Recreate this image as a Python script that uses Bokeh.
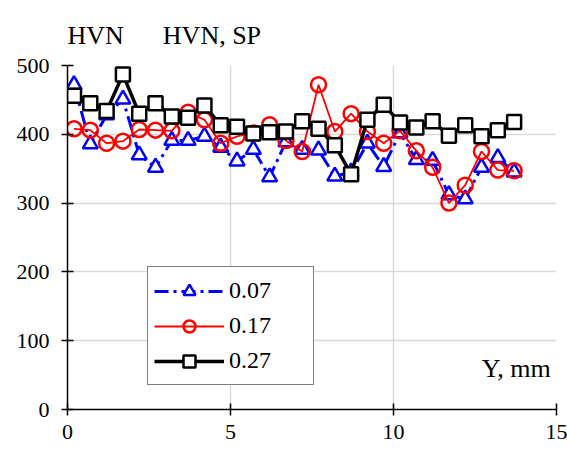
from bokeh.plotting import figure
from bokeh.models import Legend, LegendItem, Label, FixedTicker, Range1d
from bokeh.embed import file_html
from bokeh.resources import INLINE

y_mm = [0.2, 0.7, 1.2, 1.7, 2.2, 2.7, 3.2, 3.7, 4.2, 4.7, 5.2, 5.7, 6.2, 6.7,
        7.2, 7.7, 8.2, 8.7, 9.2, 9.7, 10.2, 10.7, 11.2, 11.7, 12.2, 12.7, 13.2, 13.7]

hv_007 = [472, 386, 428, 451, 370, 352, 391, 391, 397, 381, 361, 378, 338, 389,
          378, 377, 339, 345, 387, 353, 402, 363, 362, 312, 306, 352, 366, 345]
hv_017 = [408, 406, 387, 390, 407, 406, 405, 432, 421, 387, 397, 402, 414, 391,
          375, 472, 404, 430, 404, 387, 405, 376, 352, 300, 326, 375, 348, 347]
hv_027 = [456, 445, 434, 487, 430, 445, 426, 424, 442, 413, 411, 401, 403, 404,
          419, 408, 384, 342, 421, 443, 417, 410, 419, 398, 413, 397, 406, 418]

series_labels = ["0.07", "0.17", "0.27"]
x_ticks = [0, 5, 10, 15]
y_ticks = [0, 100, 200, 300, 400, 500]
header_left = "HVN"
header_right = "HVN, SP"

FONT = "Liberation Serif"

p = figure(width=567, height=449, output_backend="svg", toolbar_location=None,
           x_range=Range1d(0, 15), y_range=Range1d(0, 500),
           min_border_left=67, min_border_right=11, min_border_top=65, min_border_bottom=40)
p.outline_line_color = None
p.background_fill_color = "white"
p.border_fill_color = "white"

p.title.text = header_left + "\u00a0" * 6 + header_right
p.title.align = "left"
p.title.vertical_align = "bottom"
p.title.text_font = FONT
p.title.text_font_size = "26px"
p.title.text_font_style = "normal"
p.title.text_color = "black"
p.title.standoff = 32
p.title.offset = 0

for ax in (p.xaxis[0], p.yaxis[0]):
    ax.axis_line_color = "black"
    ax.axis_line_width = 1.5
    ax.major_tick_line_color = "black"
    ax.major_tick_line_width = 1.5
    ax.major_tick_in = 6
    ax.major_tick_out = 6
    ax.minor_tick_line_color = None
    ax.major_label_text_font = FONT
    ax.major_label_text_font_size = "22px"
    ax.major_label_text_color = "black"

p.xaxis[0].ticker = FixedTicker(ticks=x_ticks)
p.yaxis[0].ticker = FixedTicker(ticks=y_ticks)
p.xaxis[0].major_label_standoff = 9
p.yaxis[0].major_label_standoff = 12

p.xgrid[0].ticker = FixedTicker(ticks=x_ticks)
p.ygrid[0].ticker = FixedTicker(ticks=y_ticks)
for g in (p.xgrid[0], p.ygrid[0]):
    g.grid_line_color = "#d9d9d9"
    g.grid_line_width = 1.5

# series 0.07
l1 = p.line(y_mm, hv_007, line_color="#0000ff", line_width=3, line_dash="14 5 3 5")
m1 = p.scatter(y_mm, hv_007, marker="triangle", size=15, line_color="#0000ff",
               line_width=2.5, fill_color="white")
# series 0.17
l2 = p.line(y_mm, hv_017, line_color="#ff0000", line_width=1.8)
m2 = p.scatter(y_mm, hv_017, marker="circle", size=15, line_color="#ff0000",
               line_width=2.5, fill_color=None)
# series 0.27
l3 = p.line(y_mm, hv_027, line_color="black", line_width=3.5)
m3 = p.scatter(y_mm, hv_027, marker="square", size=14, line_color="black",
               line_width=2.5, fill_color="white")

legend = Legend(items=[LegendItem(label=series_labels[0], renderers=[l1, m1]),
                       LegendItem(label=series_labels[1], renderers=[l2, m2]),
                       LegendItem(label=series_labels[2], renderers=[l3, m3])],
                location=(80, 24), orientation="vertical")
legend.glyph_width = 70
legend.glyph_height = 30
legend.label_height = 35
legend.spacing = 0
legend.padding = 6
legend.label_standoff = 5
legend.label_width = 78
legend.border_line_color = "black"
legend.border_line_width = 1.5
legend.background_fill_color = "white"
legend.background_fill_alpha = 1
legend.label_text_font = FONT
legend.label_text_font_size = "24px"
legend.label_text_color = "black"
p.add_layout(legend)

p.add_layout(Label(x=14.82, y=60, text="Y, mm", text_align="right", text_baseline="middle",
                   text_font=FONT, text_font_size="26px", text_color="black"))

open("out.html", "w").write(file_html(p, INLINE))
